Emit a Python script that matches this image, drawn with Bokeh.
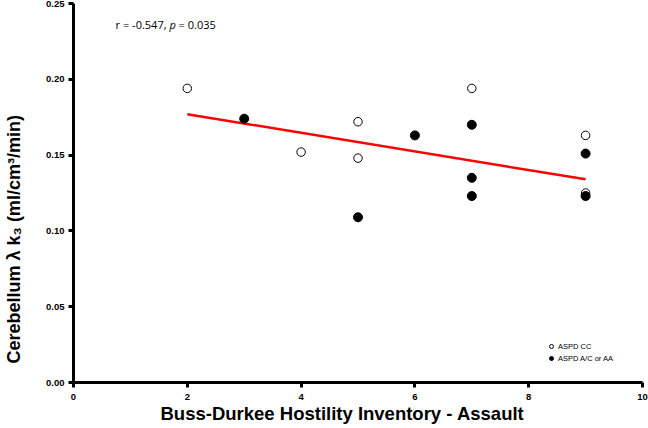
from bokeh.plotting import figure
from bokeh.models import Label, Legend, LegendItem, FixedTicker, NumeralTickFormatter, Range1d, Title
from bokeh.embed import file_html
from bokeh.resources import INLINE

# ASPD CC (open circles)
cc_x = [2, 4, 5, 5, 7, 9, 9]
cc_y = [0.194, 0.152, 0.172, 0.148, 0.194, 0.163, 0.125]

# ASPD A/C or AA (filled circles)
ac_x = [3, 5, 6, 7, 7, 7, 9, 9]
ac_y = [0.174, 0.109, 0.163, 0.170, 0.135, 0.123, 0.151, 0.123]

# regression line
fit_x = [2, 9]
fit_y = [0.177, 0.134]

x_ticks = [0, 2, 4, 6, 8, 10]
y_ticks = [0.0, 0.05, 0.10, 0.15, 0.20, 0.25]

p = figure(width=648, height=428, output_backend="svg", toolbar_location=None,
           x_range=Range1d(0, 10), y_range=Range1d(0, 0.25),
           min_border_left=73, min_border_right=6, min_border_top=3, min_border_bottom=46)
p.outline_line_color = None
p.xgrid.visible = False
p.ygrid.visible = False

p.line(fit_x, fit_y, line_color="red", line_width=2.5)
r_cc = p.scatter(cc_x, cc_y, size=8.5, fill_color="white", line_color="black", line_width=1)
r_ac = p.scatter(ac_x, ac_y, size=9, fill_color="black", line_color="black")

for ax in (p.xaxis[0], p.yaxis[0]):
    ax.axis_line_width = 3
    ax.axis_line_color = "black"
    ax.major_tick_line_width = 3
    ax.major_tick_out = 5
    ax.major_tick_in = 0
    ax.minor_tick_out = 0
    ax.minor_tick_in = 0
    ax.major_label_text_font = "Liberation Sans"
    ax.major_label_text_font_style = "bold"
    ax.major_label_text_font_size = "9.5px"
    ax.major_label_text_color = "black"

p.xaxis.ticker = FixedTicker(ticks=x_ticks)
p.yaxis.ticker = FixedTicker(ticks=y_ticks)
p.yaxis.formatter = NumeralTickFormatter(format="0.00")
p.xaxis.major_label_standoff = 6
p.yaxis.major_label_standoff = 4
# blank axis label only to push the side title out to the edge
p.yaxis.axis_label = " "
p.yaxis.axis_label_text_font_size = "1px"
p.yaxis.axis_label_standoff = 14

# axis titles as side titles, they sit off-centre in the original
p.add_layout(Title(text="Buss-Durkee Hostility Inventory - Assault", align="left", offset=87,
                   vertical_align="top", text_font="Liberation Sans", text_font_style="bold",
                   text_font_size="18.5px", text_color="black", standoff=0), "below")
p.add_layout(Title(text="Cerebellum \u03bb k\u2083 (ml/cm\u00b3/min)", align="left", offset=19,
                   text_font="Liberation Sans", text_font_style="bold", text_font_size="18px",
                   text_color="black", standoff=2), "left")

# correlation note, with the italic p
note_font = "Open Sans"
p.add_layout(Label(x=0.74, y=0.231, text="r = -0.547,", text_font=note_font,
                   text_font_size="11px", text_color="black"))
p.add_layout(Label(x=0.74, y=0.231, x_offset=54, text="p", text_font=note_font,
                   text_font_style="italic", text_font_size="11px", text_color="black"))
p.add_layout(Label(x=0.74, y=0.231, x_offset=63, text="= 0.035", text_font=note_font,
                   text_font_size="11px", text_color="black"))

legend = Legend(items=[LegendItem(label="ASPD CC", renderers=[r_cc]),
                       LegendItem(label="ASPD A/C or AA", renderers=[r_ac])],
                location=(473, 18), orientation="vertical",
                label_text_font="Liberation Sans", label_text_font_size="7.5px",
                label_text_color="black",
                glyph_width=10, glyph_height=12, label_height=12, spacing=0,
                padding=0, margin=0, label_standoff=2,
                border_line_color=None, background_fill_alpha=0)
p.add_layout(legend)

open("out.html", "w").write(file_html(p, INLINE))
